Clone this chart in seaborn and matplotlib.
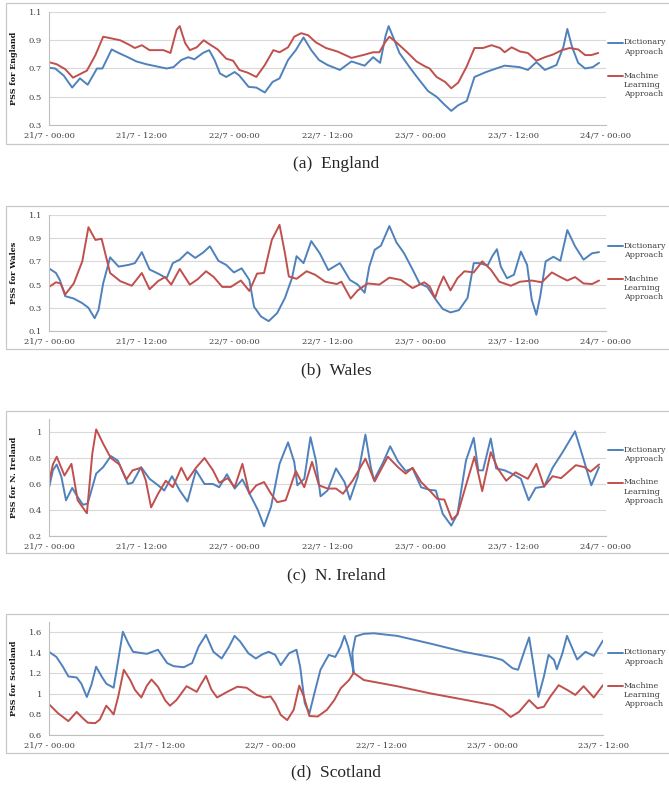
# PSS over time per nation: dictionary vs machine learning approach
import matplotlib
matplotlib.use("Agg")
import matplotlib.pyplot as plt
from matplotlib.lines import Line2D
from matplotlib.patches import Rectangle
import numpy as np
import seaborn as sns

# hours since 21/7 - 00:00
eng_dict_h = [0, 0.8, 1.9, 3.0, 4.0, 5.0, 6.2, 6.9, 8.1, 9.0, 10.0, 11.3, 12.6, 13.9, 15.2, 16.1, 17.1, 18.0, 18.8, 19.9,
              20.7, 21.4, 22.1, 22.9, 24.0, 24.6, 25.8, 26.8, 27.9, 28.9, 29.8, 30.9, 31.9, 32.9, 33.9, 34.9, 36.0, 37.6,
              39.1, 40.8, 41.9, 42.8, 43.5, 43.9, 44.5, 45.3, 46.6, 47.7, 49.0, 50.1, 51.2, 52.0, 52.9, 54.0, 55.0, 56.5,
              57.8, 58.9, 60.8, 61.9, 63.0, 64.1, 65.6, 66.5, 67.0, 67.6, 68.4, 69.3, 70.3, 71.1]
eng_dict_v = [0.705, 0.70, 0.65, 0.565, 0.63, 0.585, 0.70, 0.70, 0.835, 0.81, 0.785, 0.75, 0.73, 0.715, 0.70, 0.71, 0.76,
              0.78, 0.765, 0.81, 0.83, 0.76, 0.665, 0.64, 0.675, 0.65, 0.57, 0.565, 0.53, 0.605, 0.63, 0.76, 0.83, 0.92,
              0.83, 0.76, 0.725, 0.69, 0.75, 0.72, 0.78, 0.74, 0.93, 1.0, 0.92, 0.81, 0.71, 0.63, 0.54, 0.50, 0.44, 0.40,
              0.44, 0.47, 0.64, 0.675, 0.70, 0.72, 0.71, 0.69, 0.745, 0.69, 0.725, 0.855, 0.98, 0.855, 0.74, 0.70, 0.71,
              0.74]
eng_ml_h = [0, 1.0, 2.1, 3.1, 4.0, 4.9, 6.0, 7.0, 7.9, 9.2, 10.3, 11.1, 12.0, 13.0, 14.8, 15.7, 16.5, 16.9, 17.6, 18.2,
            19.1, 20.0, 20.8, 21.8, 22.9, 23.8, 24.6, 25.7, 26.8, 27.9, 29.0, 29.8, 30.9, 31.7, 32.6, 33.5, 34.5, 35.8,
            37.3, 39.1, 40.6, 41.9, 42.7, 43.5, 44.0, 44.9, 46.2, 47.5, 48.6, 49.2, 50.1, 51.2, 52.0, 52.9, 54.0, 55.0,
            56.1, 57.2, 58.3, 58.9, 59.8, 60.9, 61.9, 63.0, 64.1, 65.2, 66.3, 67.3, 68.4, 69.3, 70.1, 71.0]
eng_ml_v = [0.745, 0.73, 0.695, 0.635, 0.66, 0.685, 0.795, 0.925, 0.915, 0.90, 0.87, 0.845, 0.865, 0.83, 0.83, 0.81,
            0.975, 1.0, 0.88, 0.83, 0.85, 0.90, 0.87, 0.835, 0.77, 0.755, 0.69, 0.67, 0.64, 0.725, 0.83, 0.815, 0.85,
            0.925, 0.95, 0.935, 0.885, 0.845, 0.82, 0.775, 0.795, 0.815, 0.815, 0.89, 0.925, 0.885, 0.82, 0.75, 0.715,
            0.70, 0.64, 0.605, 0.56, 0.60, 0.715, 0.845, 0.845, 0.865, 0.845, 0.815, 0.85, 0.82, 0.81, 0.755, 0.78, 0.80,
            0.83, 0.845, 0.835, 0.795, 0.795, 0.81]

wal_dict_h = [0, 0.9, 1.4, 2.1, 3.2, 4.3, 5.1, 5.9, 6.4, 7.0, 7.9, 9.0, 10.3, 11.1, 12.0, 13.0, 14.1, 15.2, 16.0, 16.9,
              17.9, 18.9, 19.9, 20.8, 21.9, 22.9, 23.9, 24.9, 25.9, 26.5, 27.4, 28.4, 29.5, 30.5, 31.4, 32.0, 32.9, 33.9,
              35.0, 36.1, 37.6, 38.9, 39.9, 40.8, 41.4, 42.1, 42.9, 44.0, 44.9, 45.9, 47.0, 47.9, 48.9, 50.0, 50.9, 51.9,
              53.0, 54.1, 54.9, 55.6, 56.7, 57.3, 57.9, 58.4, 59.2, 60.1, 61.0, 61.8, 62.4, 63.0, 63.5, 64.2, 65.2, 66.1,
              67.0, 68.0, 69.1, 70.2, 71.1]
wal_dict_v = [0.64, 0.60, 0.54, 0.40, 0.38, 0.34, 0.30, 0.21, 0.28, 0.51, 0.735, 0.655, 0.67, 0.685, 0.78, 0.63, 0.595,
              0.555, 0.685, 0.715, 0.78, 0.73, 0.775, 0.83, 0.705, 0.67, 0.605, 0.64, 0.54, 0.31, 0.225, 0.185, 0.255,
              0.385, 0.555, 0.745, 0.685, 0.875, 0.77, 0.625, 0.685, 0.54, 0.50, 0.43, 0.655, 0.80, 0.835, 1.005, 0.865,
              0.77, 0.63, 0.51, 0.48, 0.37, 0.29, 0.26, 0.28, 0.385, 0.685, 0.685, 0.665, 0.745, 0.805, 0.655, 0.555,
              0.585, 0.785, 0.67, 0.37, 0.24, 0.40, 0.70, 0.74, 0.705, 0.97, 0.83, 0.715, 0.77, 0.78]
wal_ml_h = [0, 0.9, 1.5, 2.1, 3.2, 4.3, 5.1, 6.0, 6.8, 7.9, 9.2, 10.7, 12.0, 13.0, 14.1, 15.0, 15.8, 16.9, 18.2, 19.2,
            20.3, 21.3, 22.4, 23.5, 24.8, 25.9, 26.9, 27.8, 28.8, 29.8, 30.5, 31.0, 32.0, 33.3, 34.4, 35.7, 37.2, 37.8,
            39.0, 39.9, 41.2, 42.7, 44.0, 45.5, 47.0, 48.5, 49.2, 49.9, 50.4, 51.0, 51.9, 52.8, 53.7, 54.9, 56.0, 57.1,
            58.2, 59.7, 60.9, 62.4, 63.7, 65.0, 66.1, 67.0, 68.0, 69.1, 70.2, 71.1]
wal_ml_v = [0.48, 0.52, 0.51, 0.415, 0.51, 0.70, 0.995, 0.885, 0.895, 0.60, 0.53, 0.49, 0.60, 0.46, 0.53, 0.565, 0.50,
            0.635, 0.50, 0.545, 0.615, 0.565, 0.48, 0.48, 0.535, 0.445, 0.595, 0.60, 0.885, 1.015, 0.77, 0.57, 0.55,
            0.615, 0.585, 0.525, 0.505, 0.525, 0.38, 0.45, 0.51, 0.50, 0.56, 0.54, 0.47, 0.52, 0.485, 0.385, 0.48, 0.57,
            0.45, 0.555, 0.615, 0.605, 0.70, 0.63, 0.525, 0.49, 0.525, 0.535, 0.52, 0.605, 0.565, 0.535, 0.565, 0.51,
            0.505, 0.535]

ni_dict_h = [0, 0.5, 1.0, 1.6, 2.2, 3.0, 3.7, 4.4, 5.0, 6.1, 7.0, 8.0, 8.9, 10.2, 10.8, 11.9, 13.0, 14.1, 14.9, 15.9,
             16.9, 17.9, 19.0, 20.1, 21.2, 22.0, 23.0, 24.0, 25.0, 26.1, 27.0, 27.8, 28.7, 29.8, 30.9, 31.7, 32.1, 33.0,
             33.8, 34.5, 35.1, 36.0, 37.1, 38.2, 38.9, 39.9, 40.9, 41.6, 42.0, 43.1, 44.1, 45.1, 46.1, 47.0, 48.1, 49.2,
             50.0, 50.9, 52.0, 52.8, 53.9, 54.9, 55.5, 56.1, 57.1, 57.8, 58.9, 60.0, 61.0, 62.0, 62.9, 64.0, 65.1, 66.4,
             67.3, 68.0, 69.0, 70.1, 71.1]
ni_dict_v = [0.57, 0.705, 0.75, 0.655, 0.475, 0.57, 0.50, 0.44, 0.45, 0.68, 0.73, 0.815, 0.78, 0.60, 0.61, 0.73, 0.64,
             0.59, 0.55, 0.66, 0.55, 0.465, 0.705, 0.60, 0.60, 0.575, 0.675, 0.565, 0.635, 0.505, 0.40, 0.275, 0.425,
             0.755, 0.92, 0.77, 0.59, 0.64, 0.96, 0.78, 0.505, 0.55, 0.72, 0.615, 0.48, 0.655, 0.98, 0.73, 0.63, 0.755,
             0.89, 0.775, 0.70, 0.72, 0.575, 0.555, 0.55, 0.37, 0.28, 0.37, 0.78, 0.955, 0.705, 0.705, 0.95, 0.72, 0.705,
             0.675, 0.64, 0.475, 0.57, 0.58, 0.725, 0.845, 0.935, 1.005, 0.81, 0.59, 0.73]
ni_ml_h = [0, 0.5, 1.0, 2.0, 2.9, 3.7, 4.9, 5.6, 6.1, 7.0, 8.0, 9.1, 10.0, 10.8, 11.9, 12.5, 13.2, 14.1, 15.1, 16.0,
           17.1, 17.9, 19.0, 20.1, 21.2, 22.0, 23.1, 24.0, 25.0, 25.9, 26.8, 27.8, 28.7, 29.5, 30.6, 31.9, 33.0, 34.0,
           34.9, 36.0, 37.1, 38.0, 39.3, 40.9, 42.1, 43.8, 45.1, 46.1, 47.0, 48.1, 49.2, 50.2, 51.1, 52.1, 52.8, 53.9,
           55.0, 56.0, 57.1, 58.0, 59.1, 60.3, 61.9, 63.0, 64.0, 65.1, 66.2, 68.1, 69.2, 70.0, 71.1]
ni_ml_v = [0.615, 0.75, 0.81, 0.665, 0.755, 0.475, 0.375, 0.835, 1.02, 0.91, 0.80, 0.75, 0.635, 0.705, 0.725, 0.63,
           0.42, 0.525, 0.625, 0.575, 0.725, 0.63, 0.725, 0.80, 0.705, 0.61, 0.645, 0.575, 0.755, 0.525, 0.59, 0.615,
           0.525, 0.46, 0.475, 0.70, 0.575, 0.77, 0.59, 0.565, 0.565, 0.525, 0.63, 0.795, 0.62, 0.81, 0.73, 0.68, 0.725,
           0.615, 0.55, 0.485, 0.48, 0.325, 0.365, 0.59, 0.81, 0.545, 0.845, 0.72, 0.625, 0.69, 0.64, 0.755, 0.58, 0.66,
           0.645, 0.745, 0.73, 0.695, 0.75]

sco_dict_h = [0, 0.8, 1.5, 2.1, 3.0, 3.5, 4.1, 4.6, 5.1, 5.7, 6.2, 7.0, 7.5, 8.0, 8.6, 9.1, 10.6, 11.8, 12.8, 13.5,
              14.6, 15.5, 16.2, 17.0, 17.8, 18.7, 19.5, 20.1, 20.7, 21.6, 22.4, 23.1, 23.8, 24.5, 25.1, 26.0, 26.8, 27.2,
              27.7, 28.2, 28.7, 29.4, 30.3, 31.0, 31.6, 32.0, 32.4, 32.8, 33.0, 32.85, 33.2, 34.1, 35.2, 37.7, 41.3, 44.9,
              48.1, 49.1, 50.2, 50.8, 51.4, 52.0, 52.5, 53.0, 53.6, 54.1, 54.7, 55.0, 55.6, 56.1, 56.6, 57.2, 58.1, 59.0,
              60.0]
sco_dict_v = [1.41, 1.36, 1.265, 1.17, 1.16, 1.10, 0.97, 1.09, 1.265, 1.17, 1.10, 1.06, 1.33, 1.605, 1.49, 1.41, 1.39,
              1.43, 1.30, 1.27, 1.26, 1.30, 1.46, 1.575, 1.41, 1.345, 1.46, 1.565, 1.51, 1.395, 1.345, 1.385, 1.41, 1.38,
              1.28, 1.395, 1.43, 1.265, 0.91, 0.81, 0.99, 1.235, 1.38, 1.36, 1.46, 1.565, 1.46, 1.30, 1.20, 1.40, 1.56,
              1.585, 1.59, 1.565, 1.49, 1.41, 1.355, 1.33, 1.25, 1.235, 1.395, 1.55, 1.265, 0.97, 1.17, 1.38, 1.33, 1.24,
              1.395, 1.565, 1.46, 1.335, 1.41, 1.37, 1.52]
sco_ml_h = [0, 1.0, 2.1, 3.0, 3.7, 4.2, 5.0, 5.5, 6.2, 6.6, 7.0, 7.5, 8.1, 8.8, 9.3, 10.0, 10.6, 11.1, 11.8, 12.6,
            13.1, 13.8, 14.9, 15.5, 16.0, 16.4, 17.0, 17.6, 18.2, 19.3, 20.4, 21.4, 22.5, 23.3, 24.0, 24.5, 25.1, 25.8,
            26.5, 27.1, 27.6, 28.2, 29.1, 30.1, 30.9, 31.6, 32.5, 33.0, 34.1, 37.7, 41.3, 44.9, 48.1, 49.1, 50.0, 50.9,
            52.0, 52.9, 53.6, 54.3, 55.2, 56.1, 57.0, 57.9, 59.0, 60.0]
sco_ml_v = [0.90, 0.81, 0.735, 0.825, 0.76, 0.72, 0.715, 0.75, 0.885, 0.845, 0.80, 0.975, 1.235, 1.135, 1.04, 0.965,
            1.08, 1.14, 1.07, 0.935, 0.885, 0.94, 1.075, 1.045, 1.02, 1.085, 1.175, 1.04, 0.965, 1.02, 1.07, 1.06, 0.99,
            0.965, 0.975, 0.91, 0.795, 0.745, 0.845, 1.08, 0.975, 0.785, 0.78, 0.845, 0.94, 1.055, 1.135, 1.205, 1.135,
            1.075, 1.005, 0.945, 0.89, 0.845, 0.775, 0.825, 0.94, 0.86, 0.875, 0.975, 1.085, 1.04, 0.99, 1.075, 0.965,
            1.085]

xlabels_3day = ["21/7 - 00:00", "21/7 - 12:00", "22/7 - 00:00", "22/7 - 12:00", "23/7 - 00:00", "23/7 - 12:00",
                "24/7 - 00:00"]
xlabels_sco = xlabels_3day[:6]
series_names = ["Dictionary\nApproach", "Machine\nLearning\nApproach"]

BLUE = "#4F81BD"
RED = "#C0504D"
GRID = "#d9d9d9"
AXIS = "#bfbfbf"
TXT = "#404040"

sns.set_style("white")
plt.rcParams["font.family"] = ["DejaVu Serif"]

W, H = 669, 786
fig = plt.figure(figsize=(W / 100, H / 100), dpi=100)


def fx(px):
    return px / W


def fy(py):
    return (H - py) / H


def panel(top, bottom, right, box, ylim, yticks, xmax, xlabels, ylabel, caption, cap_y, dict_hv, ml_hv):
    ax = fig.add_axes([fx(49), fy(bottom), fx(right) - fx(49), (bottom - top) / H])
    sns.lineplot(x=dict_hv[0], y=dict_hv[1], ax=ax, color=BLUE, lw=1.4, sort=False, estimator=None)
    sns.lineplot(x=ml_hv[0], y=ml_hv[1], ax=ax, color=RED, lw=1.4, sort=False, estimator=None)
    ax.set_xlim(0, xmax)
    ax.set_ylim(*ylim)
    ax.set_xticks(np.arange(0, xmax + 1, 12))
    ax.set_xticklabels(xlabels)
    ax.set_yticks(yticks)
    ax.set_yticklabels([f"{t:g}" for t in yticks])
    ax.yaxis.grid(True, color=GRID, lw=0.8)
    ax.set_axisbelow(True)
    for s in ["top", "right"]:
        ax.spines[s].set_visible(False)
    for s in ["left", "bottom"]:
        ax.spines[s].set_color(AXIS)
        ax.spines[s].set_linewidth(0.8)
    ax.tick_params(axis="x", length=3, width=0.8, color=AXIS, labelsize=6, labelcolor=TXT, pad=2)
    ax.tick_params(axis="y", length=0, labelsize=6, labelcolor=TXT, pad=5)
    ax.set_xlabel("")
    ax.set_ylabel(ylabel, fontsize=5.8, fontweight="bold", color="#111111")
    ax.yaxis.set_label_coords((18 - 49) / (right - 49), 0.5)

    # frame around the panel
    fig.add_artist(Rectangle((fx(6), fy(box[1])), 1.0, (box[1] - box[0]) / H, transform=fig.transFigure,
                             fill=False, ec="#c8c8c8", lw=0.9))

    # legend drawn by hand: handle lines up with first text line
    for off, col, name in [(31, BLUE, series_names[0]), (64, RED, series_names[1])]:
        y = top + off
        fig.add_artist(Line2D([fx(608), fx(623)], [fy(y), fy(y)], color=col, lw=1.4, transform=fig.transFigure))
        fig.text(fx(624), fy(y - 4.5), name, fontsize=5.8, color=TXT, va="top", ha="left",
                 linespacing=1.2)

    fig.text(fx(336), fy(cap_y), caption, ha="center", va="center", fontsize=12.5, family="Liberation Serif")
    return ax


panel(12, 125, 606, (3, 144), (0.3, 1.1), [0.3, 0.5, 0.7, 0.9, 1.1], 72, xlabels_3day,
      "PSS for England", "(a)  England", 164, (eng_dict_h, eng_dict_v), (eng_ml_h, eng_ml_v))
panel(215, 331, 606, (206, 349), (0.1, 1.1), [0.1, 0.3, 0.5, 0.7, 0.9, 1.1], 72, xlabels_3day,
      "PSS for Wales", "(b)  Wales", 370, (wal_dict_h, wal_dict_v), (wal_ml_h, wal_ml_v))
panel(419, 536, 606, (411, 553), (0.2, 1.1), [0.2, 0.4, 0.6, 0.8, 1.0], 72, xlabels_3day,
      "PSS for N. Ireland", "(c)  N. Ireland", 575, (ni_dict_h, ni_dict_v), (ni_ml_h, ni_ml_v))
panel(622, 735, 603, (614, 753), (0.6, 1.7), [0.6, 0.8, 1.0, 1.2, 1.4, 1.6], 60, xlabels_sco,
      "PSS for Scotland", "(d)  Scotland", 772, (sco_dict_h, sco_dict_v), (sco_ml_h, sco_ml_v))

plt.savefig("out.png", dpi=100)
